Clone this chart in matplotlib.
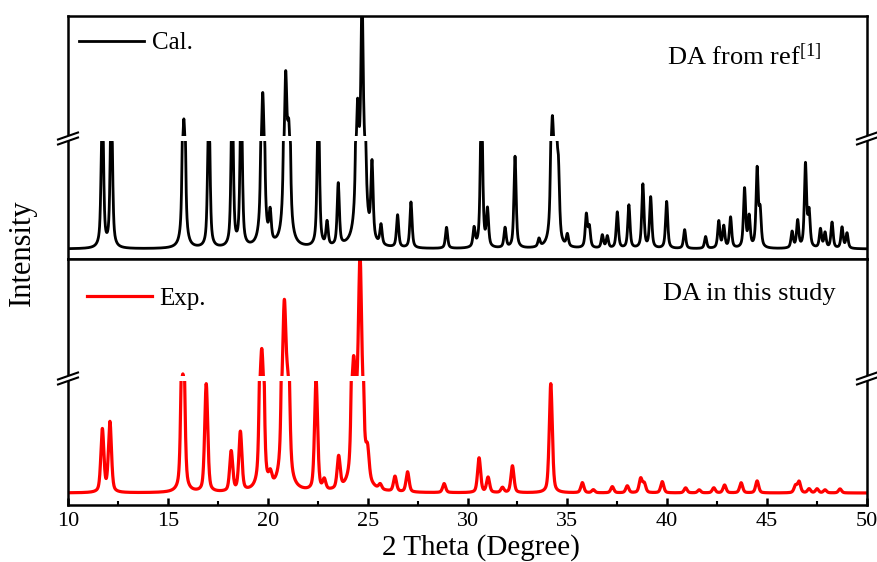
import numpy as np
import matplotlib.pyplot as plt
import matplotlib.transforms as mtransforms
from matplotlib.ticker import MultipleLocator

plt.rcParams['font.family'] = ['Liberation Serif', 'DejaVu Serif']
plt.rcParams['mathtext.fontset'] = 'custom'
plt.rcParams['mathtext.rm'] = 'Liberation Serif'
plt.rcParams['mathtext.default'] = 'rm'

# calculated pattern (DA from ref [1]): peak positions (2 theta) and heights
cal_pos = [11.72, 12.17, 15.80, 17.05, 18.22, 18.67, 19.75, 20.12, 20.90, 21.05,
           22.53, 22.97, 23.53, 24.50, 24.72, 24.85, 25.22, 25.67, 26.50, 27.17,
           28.95, 30.33, 30.70, 31.00, 31.88, 32.38, 33.58, 34.25, 34.42, 34.55,
           35.00, 35.95, 36.10, 36.75, 37.00, 37.50, 38.08, 38.78, 39.17, 39.97,
           40.87, 41.92, 42.58, 42.83, 43.17, 43.87, 44.10, 44.50, 44.65, 46.25,
           46.53, 46.92, 47.10, 47.67, 47.90, 48.25, 48.75, 49.00]
cal_height = [1500, 1500, 2850, 1500, 1500, 1500, 4150, 270, 5000, 2300,
              1500, 220, 575, 3400, 9000, 600, 695, 185, 300, 425,
              195, 175, 1500, 340, 185, 850, 75, 2900, 1200, 600,
              110, 305, 185, 120, 110, 335, 400, 590, 470, 435,
              175, 110, 250, 200, 285, 545, 280, 720, 320, 150,
              250, 770, 320, 175, 140, 240, 195, 140]

# experimental pattern (DA in this study)
exp_pos = [11.72, 12.10, 15.75, 16.92, 18.17, 18.63, 19.70, 20.13, 20.83, 21.00,
           22.42, 22.83, 23.55, 24.30, 24.62, 25.00, 25.63, 26.37, 27.00, 28.83,
           30.58, 31.03, 31.75, 32.25, 34.17, 35.75, 36.30, 37.25, 38.00, 38.67,
           38.85, 39.75, 40.92, 41.60, 42.33, 42.87, 43.70, 44.50, 46.42, 46.60,
           47.10, 47.50, 47.90, 48.65]
exp_height = [560, 625, 2100, 965, 357, 527, 3350, 100, 5600, 1500,
              990, 90, 285, 2750, 8000, 225, 45, 135, 180, 80,
              310, 135, 45, 240, 975, 90, 27, 55, 62, 125,
              80, 100, 45, 27, 45, 70, 90, 107, 62, 98,
              36, 36, 27, 36]

two_theta = np.linspace(10, 50, 4001)


def pattern(pos, height, fwhm, eta):
    y = np.zeros_like(two_theta)
    for p, h in zip(pos, height):
        d = (two_theta - p) / (fwhm / 2)
        y += h * (eta / (1 + d ** 2) + (1 - eta) * np.exp(-np.log(2) * d ** 2))
    return y


cal = pattern(cal_pos, cal_height, 0.13, 0.65)
exp = pattern(exp_pos, exp_height, 0.18, 0.45)


def broken(lo, hi, px_lo, gap, per_px):
    k = px_lo / lo

    def fwd(y):
        y = np.asarray(y, dtype=float)
        return np.where(y <= lo, y * k,
                        np.where(y <= hi, px_lo + (y - lo) / (hi - lo) * gap,
                                 px_lo + gap + (y - hi) / per_px))

    def inv(d):
        d = np.asarray(d, dtype=float)
        return np.where(d <= px_lo, d / k,
                        np.where(d <= px_lo + gap, lo + (d - px_lo) / gap * (hi - lo),
                                 hi + (d - px_lo - gap) * per_px))
    return fwd, inv


def break_mark(ax, inv, yc):
    tr = mtransforms.blended_transform_factory(ax.transAxes, ax.transData)
    dx = 10 / 799
    for x0 in (0, 1):
        xs = [x0 - dx, x0 + dx]
        l1 = [float(inv(yc - 2.5 - 3.5)), float(inv(yc - 2.5 + 3.5))]
        l2 = [float(inv(yc + 2.5 - 3.5)), float(inv(yc + 2.5 + 3.5))]
        ax.fill([xs[0], xs[1], xs[1], xs[0]], [l1[0], l1[1], l2[1], l2[0]],
                color='white', transform=tr, clip_on=False, zorder=5, lw=0)
        ax.plot(xs, l1, color='black', lw=1.5, transform=tr, clip_on=False, zorder=6)
        ax.plot(xs, l2, color='black', lw=1.5, transform=tr, clip_on=False, zorder=6)


fig = plt.figure(figsize=(8.77, 5.62), dpi=100)
ax1 = fig.add_axes([68 / 877, 1 - 259 / 562, 799 / 877, 243 / 562])
ax2 = fig.add_axes([68 / 877, 1 - 505 / 562, 799 / 877, 246 / 562])

# top panel
f1, i1 = broken(1000, 2000, 108, 5, 50)
ax1.set_yscale('function', functions=(f1, i1))
ax1.plot(two_theta, cal, color='black', lw=2.0, zorder=2, label='Cal.')
ax1.axhspan(1000, 2000, color='white', lw=0, zorder=3)
ax1.set_xlim(10, 50)
ax1.set_ylim(float(i1(-10)), float(i1(233)))
break_mark(ax1, i1, 110.5)
ax1.tick_params(bottom=False, labelbottom=False, left=False, labelleft=False)
ax1.legend(loc='upper left', bbox_to_anchor=(0.014, 0.935), frameon=False,
           fontsize=18, handlelength=2.6, handletextpad=0.3, borderpad=0,
           borderaxespad=0)
ax1.text(0.75, 0.80, 'DA from ref$^{[1]}$', transform=ax1.transAxes,
         fontsize=19, ha='left', va='baseline')

# bottom panel
f2, i2 = broken(1000, 2000, 112, 5, 50)
ax2.set_yscale('function', functions=(f2, i2))
ax2.plot(two_theta, exp, color='#ff0000', lw=2.3, zorder=2, label='Exp.')
ax2.axhspan(1000, 2000, color='white', lw=0, zorder=3)
ax2.set_xlim(10, 50)
ax2.set_ylim(float(i2(-12)), float(i2(234)))
break_mark(ax2, i2, 114.5)
ax2.set_xticks(range(10, 51, 5))
ax2.xaxis.set_minor_locator(MultipleLocator(2.5))
ax2.tick_params(axis='x', which='major', direction='in', length=5, width=1.8,
                labelsize=16, pad=5, top=False)
ax2.tick_params(axis='x', which='minor', direction='in', length=3, width=1.5, top=False)
ax2.tick_params(left=False, labelleft=False)
ax2.legend(loc='upper left', bbox_to_anchor=(0.024, 0.885), frameon=False,
           fontsize=18, handlelength=2.6, handletextpad=0.3, borderpad=0,
           borderaxespad=0)
ax2.text(0.745, 0.835, 'DA in this study', transform=ax2.transAxes,
         fontsize=19, ha='left', va='baseline')
ax2.set_xlabel('2 Theta (Degree)', fontsize=21)
ax2.xaxis.set_label_coords(0.517, -0.118)

for ax in (ax1, ax2):
    for s in ax.spines.values():
        s.set_linewidth(1.8)
        s.set_zorder(4)

fig.text(22 / 877, 1 - 253 / 562, 'Intensity', rotation=90, fontsize=22,
         ha='center', va='center')

fig.savefig('out.png', dpi=100)
